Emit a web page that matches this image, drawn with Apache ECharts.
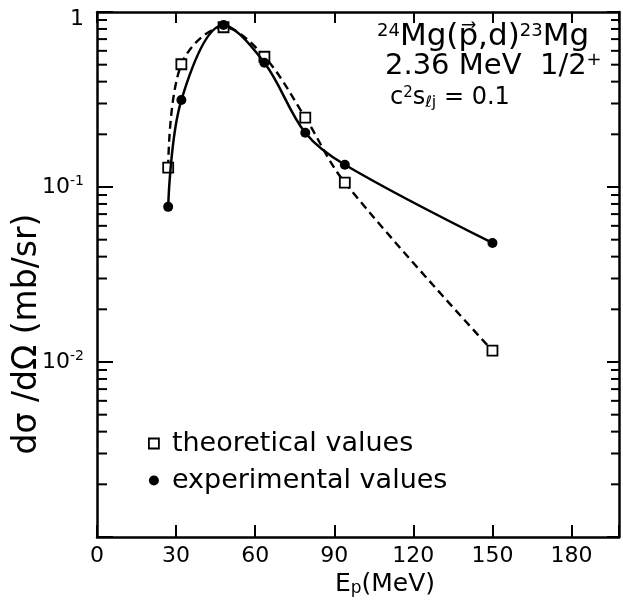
<!DOCTYPE html>
<html><head><meta charset="utf-8">
<script src="https://cdn.jsdelivr.net/npm/echarts@6/dist/echarts.min.js"></script>
<style>html,body{margin:0;padding:0;background:#fff}#c{width:623px;height:604px}</style>
</head><body><div id="c"></div>
<script>
// ---- data ----
const energiesTheo = [27, 32, 48, 63.5, 79, 94, 150];
const theoValues   = [0.129, 0.503, 0.818, 0.555, 0.249, 0.106, 0.0116];
const energiesExp  = [27, 32, 48, 63.5, 79, 94, 150];
const expValues    = [0.077, 0.314, 0.843, 0.513, 0.204, 0.134, 0.0479];
const xTickLabels  = [0, 30, 60, 90, 120, 150, 180];
const yMinorTicks  = [0.002, 0.003, 0.004, 0.005, 0.006, 0.007, 0.008, 0.009,
                      0.02, 0.03, 0.04, 0.05, 0.06, 0.07, 0.08, 0.09,
                      0.2, 0.3, 0.4, 0.5, 0.6, 0.7, 0.8, 0.9];
const seriesNames  = ['theoretical values', 'experimental values'];
const X_MIN = 0, X_MAX = 198, Y_MIN = 0.001, Y_MAX = 1;

const FONT = 'DejaVu Sans';
const chart = echarts.init(document.getElementById('c'), null, {renderer: 'canvas'});
const axisLine = {show: true, onZero: false, lineStyle: {color: '#000', width: 2.5}};

const option = {
  animation: false,
  backgroundColor: '#fff',
  grid: {left: 97, right: 4, top: 12, bottom: 67, containLabel: false},
  xAxis: [
    {type: 'value', min: X_MIN, max: X_MAX, interval: 30, position: 'bottom',
     axisLine: axisLine, splitLine: {show: false},
     axisTick: {inside: true, length: 12, lineStyle: {color: '#000', width: 2}},
     axisLabel: {margin: 8, color: '#000', fontFamily: FONT, fontSize: 22,
       formatter: v => xTickLabels.indexOf(v) >= 0 ? String(v) : ''}},
    {type: 'value', min: X_MIN, max: X_MAX, interval: 30, position: 'top',
     axisLine: axisLine, splitLine: {show: false},
     axisTick: {inside: true, length: 11, lineStyle: {color: '#000', width: 2}},
     axisLabel: {show: false}}
  ],
  yAxis: [
    {type: 'log', logBase: 10, min: Y_MIN, max: Y_MAX, position: 'left',
     axisLine: axisLine, splitLine: {show: false},
     axisTick: {inside: true, length: 16, lineStyle: {color: '#000', width: 2}},
     axisLabel: {margin: 13, color: '#000', fontFamily: FONT, fontSize: 22,
       formatter: v => {
         const e = Math.round(Math.log10(v));
         if (e === 0) return '{one|1}';
         if (e <= -3) return '';
         return '{b|10}{s|' + e + '}';
       },
       rich: {
         one: {fontSize: 22, fontFamily: FONT, color: '#000', padding: [14, 0, 0, 0]},
         b: {fontSize: 22, fontFamily: FONT, color: '#000'},
         s: {fontSize: 14, fontFamily: FONT, color: '#000', padding: [0, 0, 11, 0]}
       }}},
    {type: 'log', logBase: 10, min: Y_MIN, max: Y_MAX, position: 'right',
     axisLine: axisLine, splitLine: {show: false},
     axisTick: {inside: true, length: 12, lineStyle: {color: '#000', width: 2}},
     axisLabel: {show: false}}
  ],
  legend: {
    orient: 'vertical', left: 143, top: 425, itemWidth: 10, itemHeight: 10, itemGap: 10,
    selectedMode: false,
    textStyle: {fontFamily: FONT, fontSize: 27, color: '#000', padding: [0, 0, 0, 8]},
    data: [
      {name: seriesNames[0], icon: 'rect', itemStyle: {color: '#fff', borderColor: '#000', borderWidth: 1.8}},
      {name: seriesNames[1], icon: 'circle', itemStyle: {color: '#000', borderWidth: 0}}
    ]
  },
  graphic: [
    {type: 'text', x: 377, y: 37, style: {
      text: '{s|24}Mg(p\u20D7,d){s|23}Mg', font: '31px "DejaVu Sans"', fill: '#000',
      verticalAlign: 'middle',
      rich: {s: {font: '18px "DejaVu Sans"', fill: '#000', padding: [0, 0, 11, 0]}}}},
    {type: 'text', x: 385, y: 66, style: {
      text: '2.36 MeV  1/2{s|+}', font: '29px "DejaVu Sans"', fill: '#000',
      verticalAlign: 'middle',
      rich: {s: {font: '18px "DejaVu Sans"', fill: '#000', padding: [0, 0, 11, 0]}}}},
    {type: 'text', x: 390, y: 98, style: {
      text: 'c{s|2}s{b|\u2113j} = 0.1', font: '24px "DejaVu Sans"', fill: '#000',
      verticalAlign: 'middle',
      rich: {s: {font: '15px "DejaVu Sans"', fill: '#000', padding: [0, 0, 9, 0]},
             b: {font: '16px "DejaVu Sans"', fill: '#000', padding: [10, 0, 0, 0]}}}},
    {type: 'text', x: 385, y: 584, style: {
      text: 'E{b|p}(MeV)', font: '25px "DejaVu Sans"', fill: '#000',
      align: 'center', verticalAlign: 'middle',
      rich: {b: {font: '17px "DejaVu Sans"', fill: '#000', padding: [10, 0, 0, 0]}}}},
    {type: 'text', x: 27, y: 334, rotation: Math.PI / 2, style: {
      text: 'd\u03C3 /d\u03A9 (mb/sr)', font: '33px "DejaVu Sans"', fill: '#000',
      align: 'center', verticalAlign: 'middle'}}
  ],
  series: [
    {type: 'custom', silent: true, coordinateSystem: 'cartesian2d', xAxisIndex: 0, yAxisIndex: 0,
     data: yMinorTicks.map(v => [X_MIN, v]), encode: {x: 0, y: 1}, z: 5,
     renderItem: (params, api) => {
       const v = api.value(1);
       const L = api.coord([X_MIN, v]);
       const R = api.coord([X_MAX, v]);
       return {type: 'group', children: [
         {type: 'line', shape: {x1: L[0], y1: L[1], x2: L[0] + 10, y2: L[1]}, style: {stroke: '#000', lineWidth: 2}},
         {type: 'line', shape: {x1: R[0] - 8, y1: R[1], x2: R[0], y2: R[1]}, style: {stroke: '#000', lineWidth: 2}}
       ]};
     }},
    {type: 'line', name: seriesNames[0], xAxisIndex: 0, yAxisIndex: 0,
     data: energiesTheo.map((e, i) => [e, theoValues[i]]),
     smooth: 0.35, symbol: 'rect', symbolSize: 10, z: 3,
     itemStyle: {color: '#fff', borderColor: '#000', borderWidth: 1.8},
     lineStyle: {color: '#000', width: 2.4, type: [8, 5]}},
    {type: 'line', name: seriesNames[1], xAxisIndex: 0, yAxisIndex: 0,
     data: energiesExp.map((e, i) => [e, expValues[i]]),
     smooth: 0.35, symbol: 'circle', symbolSize: 10, z: 4,
     itemStyle: {color: '#000', borderWidth: 0},
     lineStyle: {color: '#000', width: 2.5}}
  ]
};
chart.setOption(option);
</script></body></html>
